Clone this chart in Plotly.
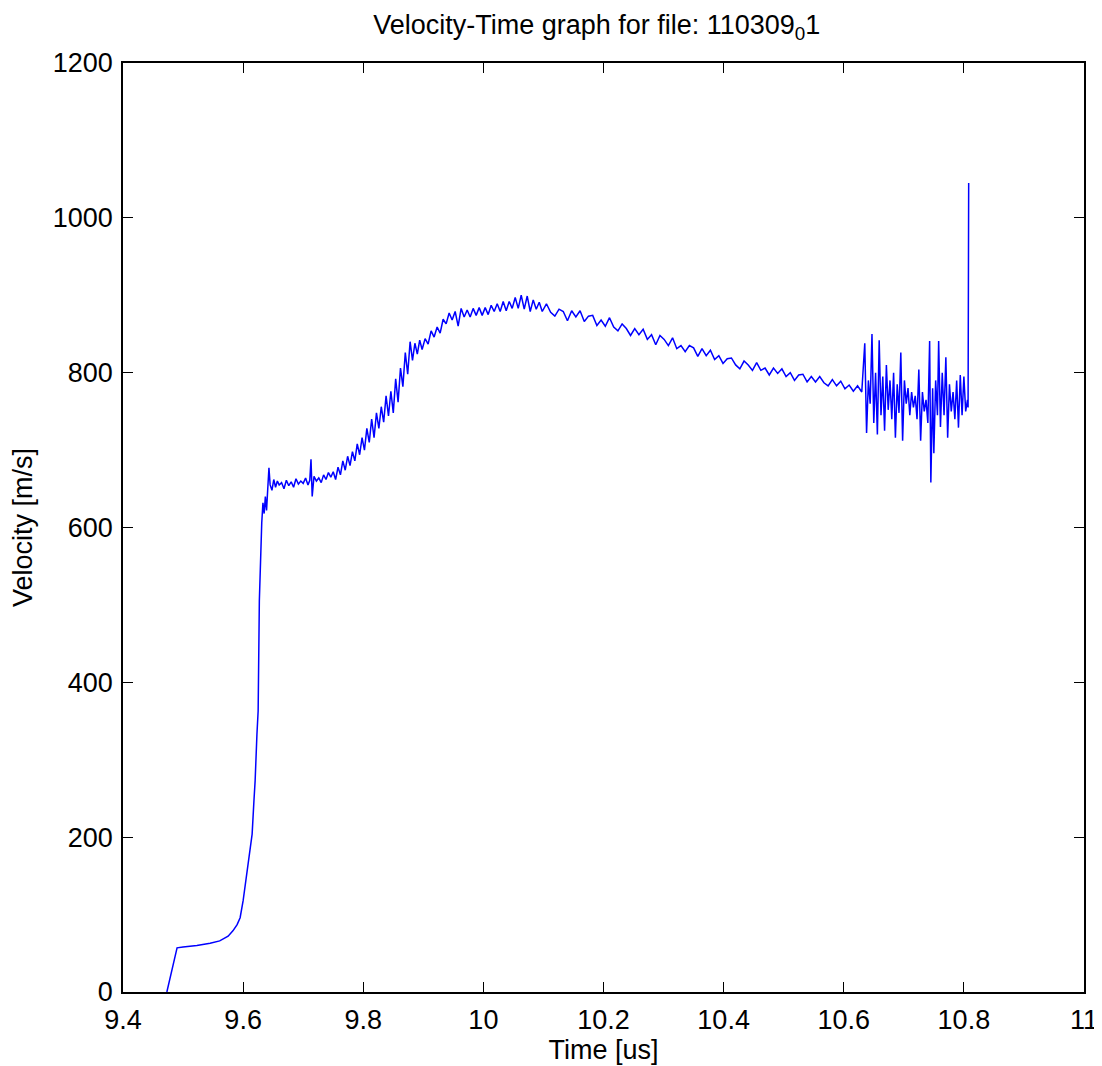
import plotly.graph_objects as go

# time [us] and velocity [m/s]
rise_t = [9.473, 9.490, 9.500, 9.523, 9.545, 9.561, 9.575, 9.583, 9.590, 9.595,
          9.600, 9.604, 9.608, 9.612, 9.615, 9.618, 9.620, 9.623, 9.625, 9.627,
          9.629, 9.631, 9.633, 9.635, 9.637, 9.639, 9.641, 9.643, 9.645]
rise_v = [0, 57, 58, 60, 63, 66, 72, 79, 87, 96,
          118, 140, 161, 183, 204, 247, 273, 333, 363, 505,
          567, 606, 632, 618, 640, 622, 650, 677, 655]

plateau_t = [9.648, 9.651, 9.654, 9.657, 9.660, 9.664, 9.668, 9.672, 9.676, 9.680,
             9.684, 9.688, 9.692, 9.696, 9.700, 9.704, 9.708, 9.711, 9.713, 9.715,
             9.718, 9.722, 9.726, 9.730, 9.734, 9.738, 9.742, 9.746, 9.750]
plateau_v = [648, 662, 652, 660, 655, 658, 650, 661, 654, 659,
             652, 663, 656, 660, 657, 664, 655, 661, 688, 640,
             666, 660, 664, 658, 668, 662, 671, 665, 672]

climb_t = [9.754, 9.758, 9.762, 9.766, 9.770, 9.774, 9.778, 9.782, 9.786, 9.790,
           9.794, 9.798, 9.802, 9.806, 9.810, 9.814, 9.818, 9.822, 9.826, 9.830,
           9.834, 9.838, 9.842, 9.846, 9.850, 9.854, 9.858, 9.862, 9.866, 9.870,
           9.874, 9.878, 9.882, 9.886, 9.890, 9.894, 9.898]
climb_v = [662, 678, 668, 686, 674, 692, 680, 698, 686, 708,
           694, 716, 700, 728, 710, 740, 716, 748, 728, 756,
           736, 770, 744, 776, 748, 792, 762, 806, 782, 826,
           798, 840, 816, 838, 824, 842, 830]

peak_t = [9.903, 9.908, 9.913, 9.918, 9.923, 9.928, 9.933, 9.938, 9.943, 9.948,
          9.953, 9.958, 9.963, 9.968, 9.973, 9.978, 9.983, 9.988, 9.993, 9.998,
          10.003, 10.008, 10.013, 10.018, 10.023, 10.028, 10.033, 10.038, 10.043, 10.048,
          10.053, 10.058, 10.063, 10.068, 10.073, 10.078, 10.083, 10.088, 10.093, 10.098]
peak_v = [844, 837, 854, 846, 859, 851, 869, 863, 877, 868,
          879, 860, 883, 872, 881, 872, 883, 874, 884, 874,
          884, 875, 887, 879, 889, 879, 892, 880, 892, 883,
          897, 883, 900, 882, 899, 879, 894, 882, 891, 879]

decay_t = [10.105, 10.112, 10.119, 10.126, 10.133, 10.140, 10.147, 10.154, 10.161, 10.168,
           10.175, 10.182, 10.189, 10.196, 10.203, 10.210, 10.217, 10.224, 10.231, 10.238,
           10.245, 10.252, 10.259, 10.266, 10.273, 10.280, 10.287, 10.294, 10.301, 10.308,
           10.315, 10.322, 10.329, 10.336, 10.343, 10.350, 10.357, 10.364, 10.371, 10.378,
           10.385, 10.392, 10.399, 10.406, 10.413, 10.420, 10.427, 10.434, 10.441, 10.448,
           10.455, 10.462, 10.469, 10.476, 10.483, 10.490, 10.497, 10.504, 10.511, 10.518,
           10.525, 10.532, 10.539, 10.546, 10.553, 10.560, 10.567, 10.574, 10.581, 10.588,
           10.595, 10.602, 10.609, 10.616, 10.623, 10.630]
decay_v = [889, 878, 873, 882, 879, 867, 880, 872, 880, 866,
           873, 874, 861, 868, 860, 871, 859, 854, 863, 857,
           848, 857, 849, 856, 843, 849, 836, 848, 843, 835,
           845, 831, 835, 827, 835, 832, 821, 831, 822, 829,
           817, 822, 812, 818, 819, 810, 805, 815, 810, 803,
           813, 803, 806, 797, 806, 799, 805, 795, 800, 790,
           797, 798, 788, 795, 788, 795, 787, 783, 791, 783,
           789, 779, 784, 776, 783, 775]

tail_t = [10.635, 10.638, 10.641, 10.644, 10.647, 10.650, 10.653, 10.656, 10.659, 10.662,
          10.665, 10.668, 10.671, 10.674, 10.677, 10.680, 10.683, 10.686, 10.689, 10.692,
          10.695, 10.698, 10.701, 10.704, 10.707, 10.710, 10.713, 10.716, 10.719, 10.722,
          10.725, 10.728, 10.731, 10.734, 10.737, 10.740, 10.743, 10.745, 10.748, 10.750,
          10.753, 10.756, 10.758, 10.761, 10.764, 10.767, 10.770, 10.773, 10.776, 10.779,
          10.782, 10.785, 10.788, 10.791, 10.794, 10.797, 10.800, 10.803, 10.806, 10.807,
          10.808]
tail_v = [838, 722, 790, 760, 850, 735, 800, 720, 842, 745,
          795, 725, 810, 752, 790, 740, 800, 716, 785, 748,
          826, 712, 790, 760, 780, 745, 775, 755, 770, 740,
          804, 712, 775, 750, 765, 735, 841, 658, 780, 696,
          790, 745, 841, 730, 800, 745, 820, 716, 785, 750,
          775, 740, 790, 729, 797, 745, 795, 750, 765, 755,
          1045]

x_ticks = [9.4, 9.6, 9.8, 10, 10.2, 10.4, 10.6, 10.8, 11]
x_labels = ["9.4", "9.6", "9.8", "10", "10.2", "10.4", "10.6", "10.8", "11"]
y_ticks = [0, 200, 400, 600, 800, 1000, 1200]
y_labels = ["0", "200", "400", "600", "800", "1000", "1200"]

time = rise_t + plateau_t + climb_t + peak_t + decay_t + tail_t
vel = rise_v + plateau_v + climb_v + peak_v + decay_v + tail_v

fnt = dict(family="Liberation Sans, Arial, sans-serif", size=27, color="black")

fig = go.Figure()
fig.add_trace(go.Scatter(x=time, y=vel, mode="lines",
                         line=dict(color="#0000ff", width=1.5), showlegend=False))

axis_style = dict(showgrid=False, zeroline=False, showline=True, linecolor="black",
                  linewidth=1.5, mirror="ticks", ticks="inside", ticklen=10,
                  tickwidth=1.2, tickcolor="black", tickfont=fnt)

fig.update_xaxes(range=[9.4, 11], tickvals=x_ticks, ticktext=x_labels,
                 ticklabelstandoff=3,
                 title=dict(text="Time [us]", font=fnt, standoff=4), **axis_style)
fig.update_yaxes(range=[0, 1200], tickvals=y_ticks, ticktext=y_labels,
                 ticklabelstandoff=3,
                 title=dict(text="Velocity [m/s]", font=fnt, standoff=12), **axis_style)

fig.update_layout(
    width=1102, height=1066,
    margin=dict(l=115, r=19, t=55, b=82),
    paper_bgcolor="white", plot_bgcolor="white",
    title=dict(text="Velocity-Time graph for file: 110309<sub>0</sub>1",
               font=fnt, x=0.493, xref="paper", xanchor="center",
               y=0.993, yref="container", yanchor="top"),
)

fig.write_html("out.html")
